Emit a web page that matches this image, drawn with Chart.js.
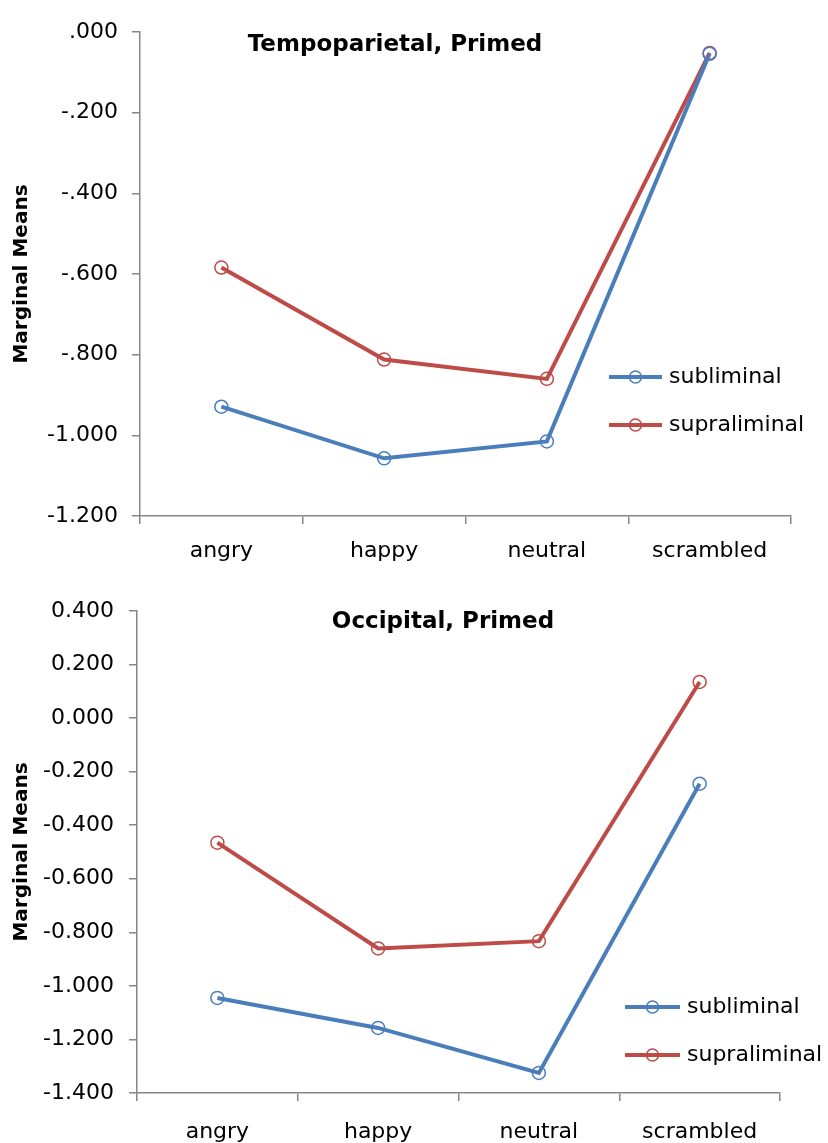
<!DOCTYPE html>
<html>
<head>
<meta charset="utf-8">
<script src="https://cdn.jsdelivr.net/npm/chart.js@4"></script>
<style>
  html, body { margin: 0; padding: 0; background: #fff; }
  .box { position: relative; width: 828px; }
  #top { height: 575px; }
  #bottom { height: 568px; }
</style>
</head>
<body>
<div class="box" id="top"><canvas id="chart__top"></canvas></div>
<div class="box" id="bottom"><canvas id="chart__bottom"></canvas></div>
<script>
const categories = ['angry', 'happy', 'neutral', 'scrambled'];
const seriesNames = ['subliminal', 'supraliminal'];

// Tempoparietal, Primed
const tempSubliminal = [-0.929, -1.057, -1.015, -0.054];
const tempSupraliminal = [-0.584, -0.812, -0.860, -0.052];
const tempTicks = { min: -1.2, max: 0, step: 0.2 };

// Occipital, Primed
const occSubliminal = [-1.045, -1.157, -1.325, -0.245];
const occSupraliminal = [-0.465, -0.860, -0.833, 0.135];
const occTicks = { min: -1.4, max: 0.4, step: 0.2 };

const BLUE = '#4a7ebb';
const RED = '#be4b48';
const FONT = '"DejaVu Sans", sans-serif';
const AXIS = '#868686';

// title + legend drawn inside the plot, like the original
const overlay = {
    id: 'overlay',
    afterDraw(chart, args, opts) {
        const ctx = chart.ctx;
        ctx.save();
        ctx.fillStyle = '#000';
        ctx.font = 'bold 23px ' + FONT;
        ctx.textAlign = 'center';
        ctx.textBaseline = 'middle';
        ctx.fillText(opts.title, opts.titleX, opts.titleY);

        ctx.font = '22px ' + FONT;
        ctx.textAlign = 'left';
        chart.data.datasets.forEach((ds, i) => {
            const y = opts.legendY + i * opts.legendGap;
            const x0 = opts.legendX;
            ctx.strokeStyle = ds.borderColor;
            ctx.lineWidth = 4;
            ctx.beginPath();
            ctx.moveTo(x0, y);
            ctx.lineTo(x0 + opts.lineLen, y);
            ctx.stroke();
            ctx.lineWidth = 1.5;
            ctx.fillStyle = '#fff';
            ctx.beginPath();
            ctx.arc(x0 + opts.lineLen / 2, y, 6, 0, Math.PI * 2);
            ctx.stroke();
            ctx.fillStyle = '#000';
            ctx.fillText(ds.label, x0 + opts.lineLen + 7, y);
        });
        ctx.restore();
    }
};

function makeChart(id, sub, sup, ticks, fmt, layout, over) {
    return new Chart(document.getElementById(id), {
        type: 'line',
        data: {
            labels: categories,
            datasets: [
                { label: seriesNames[0], data: sub, borderColor: BLUE },
                { label: seriesNames[1], data: sup, borderColor: RED }
            ].map(d => Object.assign(d, {
                borderWidth: 4,
                pointRadius: 6.5,
                pointBorderWidth: 1.5,
                pointBackgroundColor: 'rgba(0,0,0,0)',
                pointBorderColor: d.borderColor,
                tension: 0
            }))
        },
        options: {
            responsive: true,
            maintainAspectRatio: false,
            animation: false,
            layout: { padding: layout.padding },
            plugins: {
                legend: { display: false },
                tooltip: { enabled: false },
                overlay: over
            },
            scales: {
                x: {
                    offset: true,
                    grid: { offset: true, drawOnChartArea: false, tickLength: 8, color: AXIS, lineWidth: 1.5 },
                    border: { color: AXIS, width: 1.5 },
                    ticks: { color: '#000', font: { family: FONT, size: 22 }, padding: layout.xPad },
                    afterFit: s => { s.height = layout.xHeight; }
                },
                y: {
                    min: ticks.min,
                    max: ticks.max,
                    grid: { drawOnChartArea: false, tickLength: 8, color: AXIS, lineWidth: 1.5 },
                    border: { color: AXIS, width: 1.5 },
                    ticks: {
                        stepSize: ticks.step,
                        color: '#000',
                        font: { family: FONT, size: 22 },
                        padding: layout.yPad,
                        callback: v => fmt(v)
                    },
                    title: {
                        display: true,
                        text: 'Marginal Means',
                        color: '#000',
                        font: { family: FONT, size: 20, weight: 'bold' },
                        padding: { top: 10, bottom: 0 }
                    },
                    afterFit: s => { s.width = layout.yWidth; }
                }
            }
        },
        plugins: [overlay]
    });
}

// top chart drops the leading zero: .000, -.200, -1.000
const fmtNoZero = v => {
    const s = Math.abs(v).toFixed(3).replace(/^0/, '');
    return (v < -1e-9 ? '-' : '') + s;
};
const fmtZero = v => {
    const r = Math.round(v * 1000) / 1000;
    return (r === 0 ? 0 : r).toFixed(3);
};

makeChart('chart__top', tempSubliminal, tempSupraliminal, tempTicks, fmtNoZero,
    { padding: { top: 32, right: 37, left: 0, bottom: 0 }, yWidth: 140, xHeight: 59, xPad: 14, yPad: 14 },
    { title: 'Tempoparietal, Primed', titleX: 395, titleY: 45,
      legendX: 609, legendY: 377, legendGap: 48, lineLen: 53 });

makeChart('chart__bottom', occSubliminal, occSupraliminal, occTicks, fmtZero,
    { padding: { top: 36, right: 48, left: 0, bottom: 0 }, yWidth: 137, xHeight: 50, xPad: 18, yPad: 15 },
    { title: 'Occipital, Primed', titleX: 443, titleY: 47,
      legendX: 625, legendY: 432, legendGap: 48, lineLen: 55 });
</script>
</body>
</html>
